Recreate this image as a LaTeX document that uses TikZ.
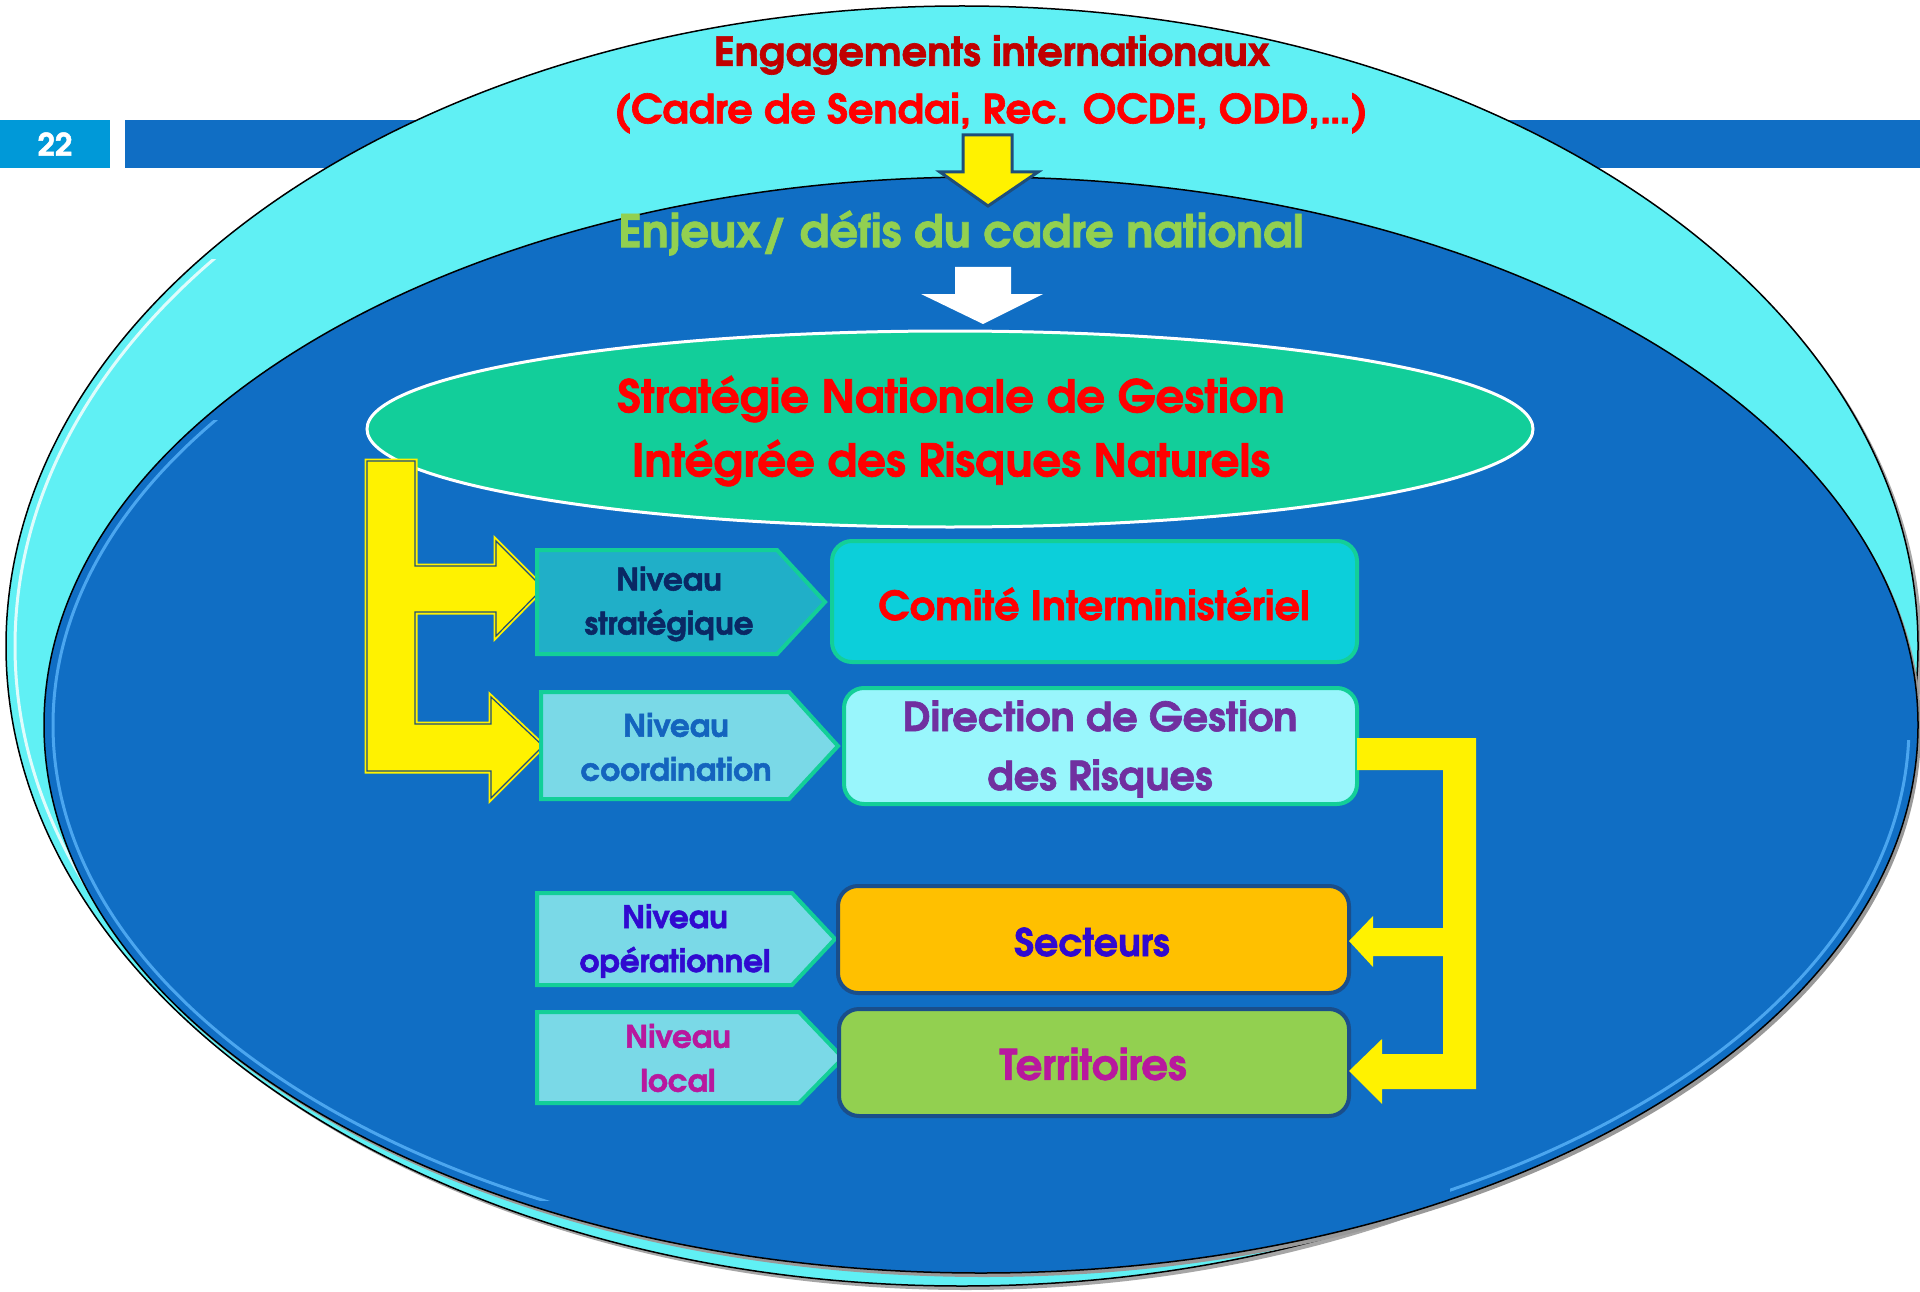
\documentclass[tikz,border=0pt]{standalone}
\usepackage{fontspec}
\setmainfont{texgyreadventor}[Extension=.otf, UprightFont=*-regular, BoldFont=*-bold, ItalicFont=*-italic, BoldItalicFont=*-bolditalic, BoldFeatures={FakeBold=1.6}]
\definecolor{cyanO}{RGB}{96,240,244}
\definecolor{blueIn}{RGB}{16,110,196}
\definecolor{numbox}{RGB}{0,153,216}
\definecolor{greenEl}{RGB}{18,206,154}
\definecolor{chevA}{RGB}{32,175,200}
\definecolor{chevB}{RGB}{122,217,231}
\definecolor{chevBorder}{RGB}{19,207,152}
\definecolor{comite}{RGB}{12,207,218}
\definecolor{direction}{RGB}{153,246,252}
\definecolor{secteurs}{RGB}{255,192,0}
\definecolor{territ}{RGB}{146,208,80}
\definecolor{darkborder}{RGB}{26,78,138}
\definecolor{arrowline}{RGB}{31,78,121}
\definecolor{darkred}{RGB}{192,0,0}
\definecolor{navytxt}{RGB}{10,40,100}
\definecolor{coordtxt}{RGB}{20,100,190}
\definecolor{purpletxt}{RGB}{112,48,160}
\definecolor{violettxt}{RGB}{48,10,208}
\definecolor{magentatxt}{RGB}{184,24,158}
\definecolor{highlight}{RGB}{90,180,250}
\tikzset{
  lbl/.style 2 args={align=center, inner sep=0pt, font=\bfseries\fontsize{#1}{#2}\selectfont},
  chevron/.style={draw=chevBorder, line width=4pt, line join=miter},
  rbox/.style={rounded corners=20pt, line width=4pt},
  yarrow/.style={fill=yellow, draw=none}
}
\begin{document}
\begin{tikzpicture}[x=1pt,y=-1pt]
\useasboundingbox (0,0) rectangle (1920,1292);
\fill[white] (0,0) rectangle (1920,1292);
% header
\fill[numbox] (0,120) rectangle (110,168);
\fill[blueIn] (125,120) rectangle (1920,168);
\node[white, font=\bfseries\fontsize{31}{34}\selectfont] (pagenum) at (55,144) {22};
% outer ellipse
\fill[black!35] (966,650) ellipse [x radius=956pt, y radius=640pt];
\draw[black, line width=1.5pt, fill=cyanO] (962,646) ellipse [x radius=956pt, y radius=640pt];
\begin{scope}
  \clip (0,260) rectangle (330,1000);
  \draw[white, line width=3pt, opacity=0.8] (962,646) ellipse [x radius=947pt, y radius=631pt];
\end{scope}
% inner ellipse
\fill[black!40] (984,729) ellipse [x radius=937pt, y radius=548pt];
\draw[black, line width=1.5pt, fill=blueIn] (981,725) ellipse [x radius=937pt, y radius=548pt];
\begin{scope}
  \clip (0,420) rectangle (560,1200);
  \draw[highlight, line width=3pt, opacity=0.8] (981,725) ellipse [x radius=928pt, y radius=539pt];
\end{scope}
\begin{scope}
  \clip (1450,740) rectangle (1920,1220);
  \draw[highlight, line width=3pt, opacity=0.8] (981,725) ellipse [x radius=928pt, y radius=539pt];
\end{scope}
% titles
\node[lbl={40}{44}, text=darkred] (eng) at (992,55) {Engagements internationaux};
\node[lbl={40}{44}, text=red] (cadre) at (991,113) {(Cadre de Sendai, Rec. OCDE, ODD,\ldots)};
% top yellow arrow
\draw[fill=yellow, draw=arrowline, line width=3pt, line join=miter]
  (963,135) -- (1012,135) -- (1012,172) -- (1038,172) -- (988,206) -- (940,172) -- (963,172) -- cycle;
\node[lbl={45}{46}, text=territ] (enjeux) at (961,233) {Enjeux/ défis du cadre national};
% white arrow
\fill[white] (955,267) -- (1011,267) -- (1011,294) -- (1043,294) -- (983,324) -- (921,294) -- (955,294) -- cycle;
% green ellipse
\draw[white, line width=3pt, fill=greenEl] (950,429) ellipse [x radius=583pt, y radius=98pt];
\node[lbl={45}{64}, text=red] (strat) at (951,431) {Stratégie Nationale de Gestion\\Intégrée des Risques Naturels};
% left L arrow
\def\Lpath{(367,461) -- (415,461) -- (415,566) -- (496,566) -- (496,541) -- (543,588) -- (496,636) -- (496,612) -- (415,612) -- (415,724) -- (491,724) -- (491,697) -- (543,746) -- (491,798) -- (491,771) -- (367,771) -- cycle}
\draw[yellow, line width=5pt, line join=miter] \Lpath;
\draw[fill=yellow, draw=arrowline, line width=1.2pt, line join=miter] \Lpath;
% chevrons
\draw[chevron, fill=chevA] (537,550) -- (777,550) -- (825,602) -- (777,654) -- (537,654) -- cycle;
\draw[chevron, fill=chevB] (541,692) -- (789,692) -- (838,746) -- (789,799) -- (541,799) -- cycle;
\draw[chevron, fill=chevB] (537,893) -- (792,893) -- (835,939) -- (792,985) -- (537,985) -- cycle;
\draw[chevron, fill=chevB] (537,1012) -- (799,1012) -- (843,1058) -- (799,1103) -- (537,1103) -- cycle;
\node[lbl={31}{44}, text=navytxt] (nstrat) at (669,604) {Niveau\\stratégique};
\node[lbl={31}{44}, text=coordtxt] (ncoord) at (676,747) {Niveau\\coordination};
\node[lbl={31}{44}, text=violettxt] (nop) at (675,941) {Niveau\\opérationnel};
\node[lbl={31}{44}, text=magentatxt] (nloc) at (678,1058) {Niveau\\local};
% boxes
\draw[rbox, draw=chevBorder, fill=comite] (832,541) rectangle (1357,662);
\node[lbl={40}{42}, text=red] (comite) at (1094,604) {Comité Interministériel};
\draw[rbox, draw=chevBorder, fill=direction] (844,688) rectangle (1357,804);
\node[lbl={40}{59}, text=purpletxt] (dir) at (1100,749) {Direction de Gestion\\des Risques};
\draw[rbox, draw=darkborder, fill=secteurs] (838,886) rectangle (1349,993);
\node[lbl={38}{42}, text=violettxt] (sect) at (1092,942) {Secteurs};
\draw[rbox, draw=darkborder, fill=territ] (839,1009) rectangle (1349,1116);
\node[lbl={42}{42}, text=magentatxt] (terr) at (1093,1064) {Territoires};
% right yellow connector
\fill[yarrow] (1357,738) -- (1476,738) -- (1476,1089) -- (1382,1089) -- (1382,1104) -- (1349,1071) -- (1382,1039) -- (1382,1054) -- (1443,1054) -- (1443,956) -- (1373,956) -- (1373,967) -- (1349,941) -- (1373,916) -- (1373,928) -- (1443,928) -- (1443,770) -- (1357,770) -- cycle;
\end{tikzpicture}
\end{document}
